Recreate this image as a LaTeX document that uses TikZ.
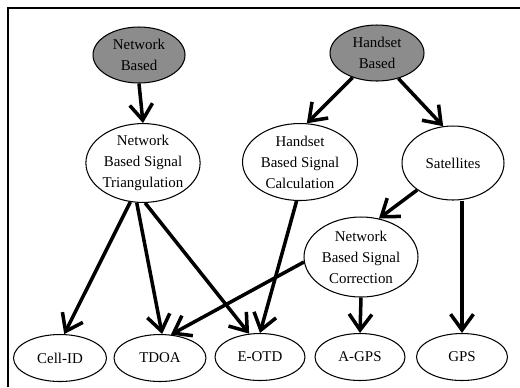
\documentclass[tikz,border=0pt]{standalone}
\usepackage{fontspec}
\setmainfont{Liberation Serif}
\usepackage{tikz}
\usetikzlibrary{shapes, arrows.meta, positioning, calc}
\definecolor{shadegray}{rgb}{0.55, 0.55, 0.55}

\begin{document}
\begin{tikzpicture}[x=0.02cm, y=-0.02cm,
  every node/.style={font=\fontsize{8.5}{12}\selectfont},
  oval/.style={draw, ellipse, semithick, align=center, inner sep=0pt},
  root/.style={oval, fill=shadegray},
  link/.style={line width=2pt, -{Straight Barb[length=9pt,width=13pt,line width=2pt]}}]
\useasboundingbox (0,0) rectangle (520,387);
\draw [line width=1.2pt] (8,387) -- (8,8) -- (520,8);

%% top level
\node[root, minimum width=1.84cm, minimum height=1.12cm] (netbased) at (139,55) {Network\\Based};
\node[root, minimum width=1.88cm, minimum height=1.12cm] (handbased) at (377,53) {Handset\\Based};

%% middle level
\node[oval, minimum width=2.14cm, minimum height=1.48cm] (nettri) at (143,163) {Network\\Based Signal\\Triangulation};
\node[oval, minimum width=2.3cm, minimum height=1.54cm] (handcalc) at (300,162) {Handset\\Based Signal\\Calculation};
\node[oval, minimum width=2.04cm, minimum height=1.48cm] (sat) at (453,163) {Satellites};
\node[oval, minimum width=2.28cm, minimum height=1.6cm] (netcorr) at (361,257) {Network\\Based Signal\\Correction};

%% methods
\node[oval, minimum width=1.86cm, minimum height=0.94cm] (cellid) at (60,358) {Cell-ID};
\node[oval, minimum width=1.84cm, minimum height=0.94cm] (tdoa) at (160,358) {TDOA};
\node[oval, minimum width=1.8cm, minimum height=0.94cm] (eotd) at (260,357) {E-OTD};
\node[oval, minimum width=1.8cm, minimum height=0.94cm] (agps) at (360,357) {A-GPS};
\node[oval, minimum width=1.82cm, minimum height=0.94cm] (gps) at (462,357) {GPS};

\draw [link] (netbased.south) -- (nettri.north);
\draw [link] (handbased.225) -- (handcalc.80);
\draw [link] (handbased.310) -- (sat.105);
\draw [link] (nettri.252) -- (cellid.80);
\draw [link] (nettri.261) -- (tdoa.85);
\draw [link] (nettri.273) -- (eotd.115);
\draw [link] (handcalc.265) -- (eotd.north);
\draw [link] (sat.217) -- (netcorr.65);
\draw [link] (netcorr.185) -- (tdoa.65);
\draw [link] (netcorr.south) -- (agps.north);
\draw [link] (gps.north |- sat.south) -- (gps.north);
\end{tikzpicture}
\end{document}
